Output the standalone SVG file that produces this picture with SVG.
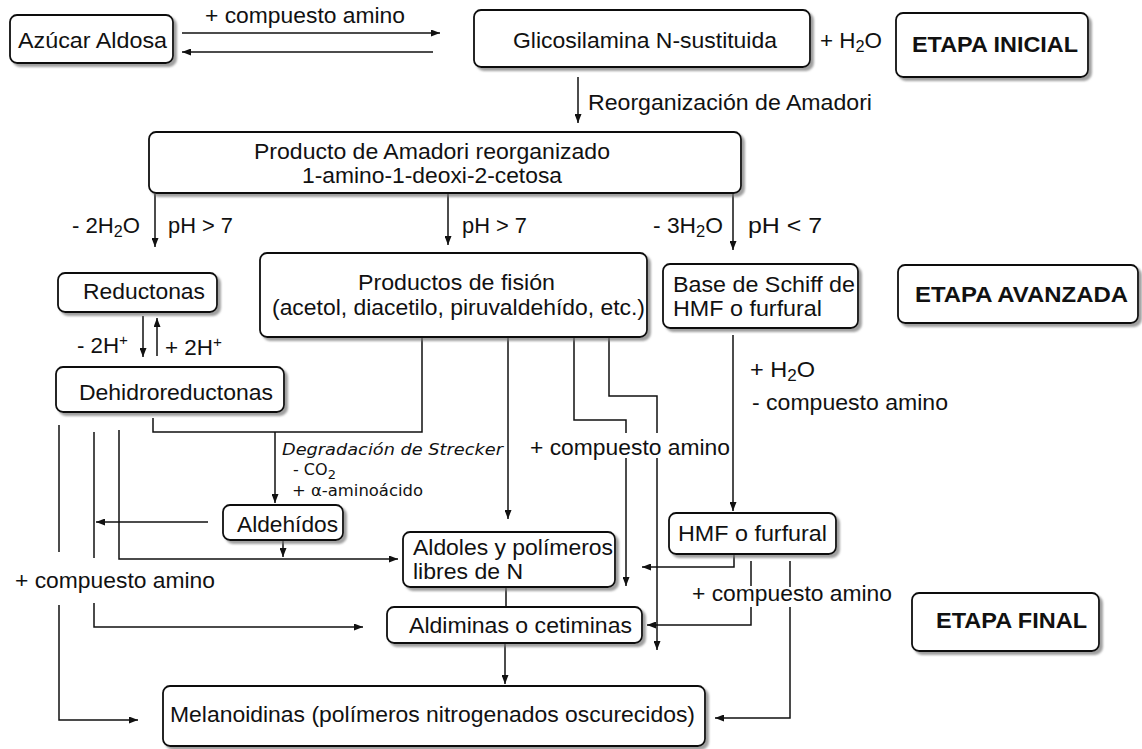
<svg xmlns="http://www.w3.org/2000/svg" width="1142" height="749" viewBox="0 0 1142 749">
<style>
.box{fill:#fff;stroke:#111;stroke-width:1.8;filter:url(#sh)}
.t{font-family:"Liberation Sans",Arial,sans-serif;font-size:22px;fill:#111}
.b{font-family:"Liberation Sans",Arial,sans-serif;font-size:22px;font-weight:bold;fill:#111}
.s{font-family:"DejaVu Sans",Verdana,sans-serif;font-size:16px;fill:#111}
.c{fill:none;stroke:#111;stroke-width:1.5}
.a{marker-end:url(#ah)}
</style>
<defs>
<filter id="sh" x="-5%" y="-5%" width="115%" height="130%">
<feDropShadow dx="3" dy="3" stdDeviation="1" flood-color="#777" flood-opacity="0.7"/>
</filter>
<marker id="ah" markerUnits="userSpaceOnUse" markerWidth="9" markerHeight="7" refX="9" refY="3.5" orient="auto">
<path d="M0,0 L9,3.5 L0,7 z" fill="#111"/>
</marker>
</defs>
<rect width="1142" height="749" fill="#fff"/>

<g id="connectors">
<path class="c a" d="M182 33 H440"/>
<path class="c a" d="M433 52 H182"/>
<path class="c a" d="M578 77 V123"/>
<path class="c a" d="M155 193 V247"/>
<path class="c a" d="M448 193 V245"/>
<path class="c a" d="M733 193 V250"/>
<path class="c a" d="M143 316 V357"/>
<path class="c a" d="M157 356 V318"/>
<path class="c" d="M153 418 V432 H422 V337"/>
<path class="c a" d="M275 432 V503"/>
<path class="c a" d="M508 337 V519"/>
<path class="c" d="M574 337 V420 H626 V433"/>
<path class="c a" d="M626 458 V586"/>
<path class="c" d="M609 337 V396 H657 V433"/>
<path class="c a" d="M657 458 V650"/>
<path class="c a" d="M733 335 V511"/>
<path class="c" d="M59 425 V552"/>
<path class="c a" d="M59 605 V720 H138"/>
<path class="c" d="M94 432 V558"/>
<path class="c a" d="M94 603 V627 H363"/>
<path class="c a" d="M119 430 V559 H398"/>
<path class="c a" d="M208 522 H96"/>
<path class="c a" d="M283 540 V557"/>
<path class="c" d="M506 587 V607"/>
<path class="c a" d="M505 643 V684"/>
<path class="c a" d="M734 554 V567 H642"/>
<path class="c" d="M751 561 V586"/>
<path class="c a" d="M751 607 V625 H647"/>
<path class="c" d="M790 561 V587"/>
<path class="c a" d="M790 607 V718 H715"/>
</g>

<g id="labels">
<text class="t" x="205" y="23" textLength="200" lengthAdjust="spacingAndGlyphs">+ compuesto amino</text>
<text class="t" x="820" y="48" textLength="62" lengthAdjust="spacingAndGlyphs">+ H<tspan font-size="16" dy="4">2</tspan><tspan dy="-4">O</tspan></text>
<text class="t" x="588" y="110" textLength="284" lengthAdjust="spacingAndGlyphs">Reorganización de Amadori</text>
<text class="t" x="72" y="233" textLength="68" lengthAdjust="spacingAndGlyphs">- 2H<tspan font-size="16" dy="4">2</tspan><tspan dy="-4">O</tspan></text>
<text class="t" x="168" y="233" textLength="65" lengthAdjust="spacingAndGlyphs">pH &gt; 7</text>
<text class="t" x="462" y="233" textLength="65" lengthAdjust="spacingAndGlyphs">pH &gt; 7</text>
<text class="t" x="653" y="233" textLength="70" lengthAdjust="spacingAndGlyphs">- 3H<tspan font-size="16" dy="4">2</tspan><tspan dy="-4">O</tspan></text>
<text class="t" x="748" y="233" textLength="74" lengthAdjust="spacingAndGlyphs">pH  &lt; 7</text>
<text class="t" x="77" y="353" textLength="51" lengthAdjust="spacingAndGlyphs">- 2H<tspan font-size="15" dy="-8">+</tspan></text>
<text class="t" x="165" y="355" textLength="57" lengthAdjust="spacingAndGlyphs">+ 2H<tspan font-size="15" dy="-8">+</tspan></text>
<text class="t" x="750" y="377" textLength="65" lengthAdjust="spacingAndGlyphs">+ H<tspan font-size="16" dy="4">2</tspan><tspan dy="-4">O</tspan></text>
<text class="t" x="752" y="410" textLength="196" lengthAdjust="spacingAndGlyphs">- compuesto amino</text>
<text class="s" x="282" y="455" font-style="italic" textLength="221" lengthAdjust="spacingAndGlyphs">Degradación de Strecker</text>
<text class="s" x="293" y="475">- CO<tspan font-size="13" dy="4">2</tspan></text>
<text class="s" x="292" y="496" textLength="131" lengthAdjust="spacingAndGlyphs">+ α-aminoácido</text>
<text class="t" x="530" y="455" textLength="200" lengthAdjust="spacingAndGlyphs">+ compuesto amino</text>
<text class="t" x="15" y="588" textLength="200" lengthAdjust="spacingAndGlyphs">+ compuesto amino</text>
<text class="t" x="692" y="601" textLength="200" lengthAdjust="spacingAndGlyphs">+ compuesto amino</text>
</g>

<g id="n-azucar"><rect class="box" x="10" y="15" width="163" height="48" rx="7"/>
<text class="t" x="18" y="48" textLength="149" lengthAdjust="spacingAndGlyphs">Azúcar Aldosa</text></g>

<g id="n-glicosilamina"><rect class="box" x="474" y="10" width="336" height="57" rx="7"/>
<text class="t" x="513" y="48" textLength="264" lengthAdjust="spacingAndGlyphs">Glicosilamina N-sustituida</text></g>

<g id="n-etapa-inicial"><rect class="box" x="896" y="13" width="192" height="64" rx="7"/>
<text class="b" x="912" y="52" textLength="166" lengthAdjust="spacingAndGlyphs">ETAPA INICIAL</text></g>

<g id="n-amadori"><rect class="box" x="149" y="132" width="592" height="61" rx="7"/>
<text class="t" x="254" y="159" textLength="356" lengthAdjust="spacingAndGlyphs">Producto de Amadori reorganizado</text>
<text class="t" x="302" y="183" textLength="260" lengthAdjust="spacingAndGlyphs">1-amino-1-deoxi-2-cetosa</text></g>

<g id="n-reductonas"><rect class="box" x="58" y="273" width="159" height="39" rx="7"/>
<text class="t" x="83" y="299" textLength="122" lengthAdjust="spacingAndGlyphs">Reductonas</text></g>

<g id="n-fision"><rect class="box" x="260" y="253" width="387" height="84" rx="7"/>
<text class="t" x="358" y="290" textLength="197" lengthAdjust="spacingAndGlyphs">Productos de fisión</text>
<text class="t" x="272" y="315" textLength="373" lengthAdjust="spacingAndGlyphs">(acetol, diacetilo, piruvaldehído, etc.)</text></g>

<g id="n-schiff"><rect class="box" x="663" y="264" width="195" height="64" rx="7"/>
<text class="t" x="673" y="292" textLength="182" lengthAdjust="spacingAndGlyphs">Base de Schiff de</text>
<text class="t" x="673" y="316" textLength="149" lengthAdjust="spacingAndGlyphs">HMF o furfural</text></g>

<g id="n-etapa-avanzada"><rect class="box" x="898" y="265" width="240" height="58" rx="7"/>
<text class="b" x="915" y="302" textLength="213" lengthAdjust="spacingAndGlyphs">ETAPA AVANZADA</text></g>

<g id="n-dehidro"><rect class="box" x="56" y="367" width="228" height="45" rx="7"/>
<text class="t" x="79" y="400" textLength="194" lengthAdjust="spacingAndGlyphs">Dehidroreductonas</text></g>

<g id="n-aldehidos"><rect class="box" x="223" y="505" width="120" height="35" rx="7"/>
<text class="t" x="237" y="532" textLength="101" lengthAdjust="spacingAndGlyphs">Aldehídos</text></g>

<g id="n-hmf"><rect class="box" x="669" y="513" width="167" height="41" rx="7"/>
<text class="t" x="678" y="541" textLength="149" lengthAdjust="spacingAndGlyphs">HMF o furfural</text></g>

<g id="n-aldoles"><rect class="box" x="403" y="532" width="212" height="55" rx="7"/>
<text class="t" x="413" y="555" textLength="200" lengthAdjust="spacingAndGlyphs">Aldoles y polímeros</text>
<text class="t" x="413" y="579" textLength="110" lengthAdjust="spacingAndGlyphs">libres de N</text></g>

<g id="n-aldiminas"><rect class="box" x="387" y="607" width="255" height="36" rx="7"/>
<text class="t" x="409" y="633" textLength="223" lengthAdjust="spacingAndGlyphs">Aldiminas o cetiminas</text></g>

<g id="n-etapa-final"><rect class="box" x="912" y="593" width="187" height="58" rx="7"/>
<text class="b" x="936" y="628" textLength="151" lengthAdjust="spacingAndGlyphs">ETAPA FINAL</text></g>

<g id="n-melanoidinas"><rect class="box" x="163" y="686" width="542" height="60" rx="7"/>
<text class="t" x="170" y="722" textLength="525" lengthAdjust="spacingAndGlyphs">Melanoidinas (polímeros nitrogenados oscurecidos)</text></g>
</svg>
